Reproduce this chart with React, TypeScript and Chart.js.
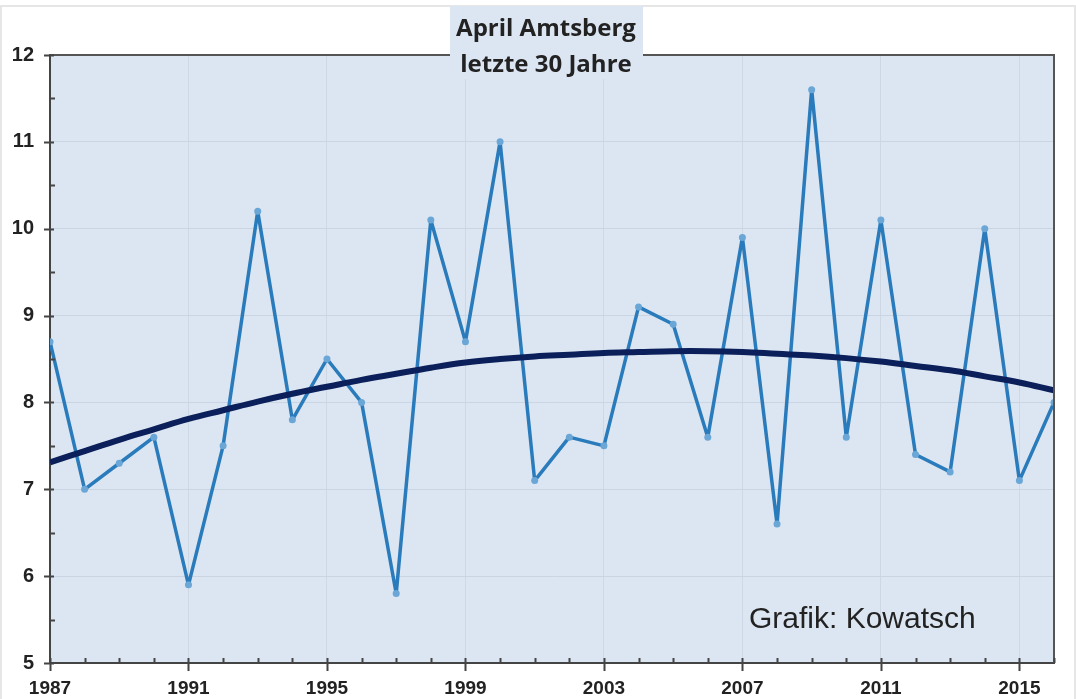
import React, { useEffect, useRef } from "react";
import { Chart, registerables } from "chart.js";
Chart.register(...registerables);

const years = [1987, 1988, 1989, 1990, 1991, 1992, 1993, 1994, 1995, 1996, 1997, 1998, 1999, 2000, 2001, 2002, 2003, 2004, 2005, 2006, 2007, 2008, 2009, 2010, 2011, 2012, 2013, 2014, 2015, 2016];
const temps = [8.7, 7.0, 7.3, 7.6, 5.9, 7.5, 10.2, 7.8, 8.5, 8.0, 5.8, 10.1, 8.7, 11.0, 7.1, 7.6, 7.5, 9.1, 8.9, 7.6, 9.9, 6.6, 11.6, 7.6, 10.1, 7.4, 7.2, 10.0, 7.1, 8.0];
const trend = [7.31, 7.44, 7.57, 7.69, 7.81, 7.91, 8.01, 8.1, 8.18, 8.26, 8.33, 8.4, 8.46, 8.5, 8.53, 8.55, 8.57, 8.58, 8.59, 8.59, 8.58, 8.56, 8.54, 8.51, 8.47, 8.42, 8.37, 8.3, 8.23, 8.14];
const titleLines = ["April Amtsberg", "letzte 30 Jahre"];
const creditText = "Grafik: Kowatsch";
const yMin = 5;
const yMax = 12;
const labelEvery = 4;

const decorPlugin = {
  id: "decor",
  beforeDraw(chart: any) {
    const { ctx, chartArea: a } = chart;
    ctx.save();
    ctx.fillStyle = "#ffffff";
    ctx.fillRect(0, 0, chart.width, chart.height);
    ctx.strokeStyle = "#e6e6e6";
    ctx.lineWidth = 2;
    ctx.strokeRect(1, 6, chart.width - 2, chart.height);
    ctx.fillStyle = "#dce6f2";
    ctx.fillRect(a.left, a.top, a.right - a.left, a.bottom - a.top);
    ctx.restore();
  },
  afterDraw(chart: any) {
    const { ctx, chartArea: a } = chart;
    const xs = chart.scales.x;
    const ys = chart.scales.y;
    ctx.save();
    ctx.strokeStyle = "#555555";
    ctx.lineWidth = 2;
    ctx.beginPath();
    ctx.moveTo(a.left, a.top);
    ctx.lineTo(a.right, a.top);
    ctx.lineTo(a.right, a.bottom);
    ctx.stroke();
    ctx.strokeStyle = "#444444";
    ctx.lineWidth = 2;
    ctx.beginPath();
    for (let v = yMin; v <= yMax + 1e-9; v += 0.5) {
      const y = Math.round(ys.getPixelForValue(v)) + 0.5;
      if (Math.abs(v - Math.round(v)) < 1e-9) {
        ctx.moveTo(a.left - 6, y);
        ctx.lineTo(a.left + 4, y);
      } else {
        ctx.moveTo(a.left, y);
        ctx.lineTo(a.left + 5, y);
      }
    }
    for (const yr of years) {
      const x = Math.round(xs.getPixelForValue(yr)) + 0.5;
      if ((yr - years[0]) % labelEvery === 0) {
        ctx.moveTo(x, a.bottom - 5);
        ctx.lineTo(x, a.bottom + 8);
      } else {
        ctx.moveTo(x, a.bottom - 5);
        ctx.lineTo(x, a.bottom);
      }
    }
    ctx.stroke();
    ctx.fillStyle = "#dce6f2";
    ctx.fillRect(450, 6, 193, a.top - 6 + 24);
    ctx.fillStyle = "#222222";
    ctx.font = "bold 24px 'Open Sans'";
    ctx.textAlign = "center";
    ctx.textBaseline = "alphabetic";
    ctx.fillText(titleLines[0], 546, 36);
    ctx.fillText(titleLines[1], 546, 72);
    ctx.font = "30px 'Liberation Sans'";
    ctx.textAlign = "left";
    ctx.fillText(creditText, 749, 628);
    ctx.restore();
  },
};

export default function App() {
  const ref = useRef<HTMLCanvasElement | null>(null);
  useEffect(() => {
    document.body.style.margin = "0";
    const canvas = ref.current;
    if (!canvas) return;
    const chart = new Chart(canvas, {
      type: "line",
      data: {
        datasets: [
          {
            label: "April",
            data: years.map((y, i) => ({ x: y, y: temps[i] })),
            borderColor: "#2a7bbb",
            borderWidth: 3.5,
            borderJoinStyle: "round",
            pointRadius: 3.5,
            pointBackgroundColor: "#6aa6d6",
            pointBorderWidth: 0,
            tension: 0,
            order: 2,
          },
          {
            label: "Trend",
            data: years.map((y, i) => ({ x: y, y: trend[i] })),
            borderColor: "#0b1f5a",
            borderWidth: 6,
            pointRadius: 0,
            tension: 0.4,
            order: 1,
          },
        ],
      },
      options: {
        animation: false,
        responsive: false,
        events: [],
        layout: { padding: { top: 55, right: 22, left: 0, bottom: 0 } },
        plugins: { legend: { display: false }, title: { display: false }, tooltip: { enabled: false } },
        scales: {
          x: {
            type: "linear",
            min: years[0],
            max: years[years.length - 1],
            afterFit: (s: any) => { s.height = 36; },
            ticks: {
              stepSize: 1,
              autoSkip: false,
              maxRotation: 0,
              padding: 14,
              color: "#222222",
              font: { family: "'Liberation Sans'", size: 19, weight: "bold" },
              callback: (v: any) => ((Number(v) - years[0]) % labelEvery === 0 ? String(v) : ""),
            },
            grid: {
              drawTicks: false,
              lineWidth: 1,
              color: (c: any) => (((c.tick?.value ?? 0) - years[0]) % labelEvery === 0 ? "#cdd8e4" : "rgba(0,0,0,0)"),
            },
            border: { color: "#444444", width: 2 },
          },
          y: {
            min: yMin,
            max: yMax,
            afterFit: (s: any) => { s.width = 50; },
            ticks: {
              stepSize: 0.5,
              autoSkip: false,
              padding: 16,
              color: "#222222",
              font: { family: "'Liberation Sans'", size: 20, weight: "bold" },
              callback: (v: any) => (Number.isInteger(Number(v)) ? String(v) : ""),
            },
            grid: {
              drawTicks: false,
              lineWidth: 1,
              color: (c: any) => (Number.isInteger(c.tick?.value) ? "#c9d5e2" : "rgba(0,0,0,0)"),
            },
            border: { color: "#444444", width: 2 },
          },
        },
      },
      plugins: [decorPlugin],
    });
    return () => chart.destroy();
  }, []);
  return (
    <div style={{ position: "absolute", left: 0, top: 0, width: 1076, height: 699 }}>
      <canvas ref={ref} width={1076} height={699} style={{ display: "block", width: 1076, height: 699 }} />
    </div>
  );
}
